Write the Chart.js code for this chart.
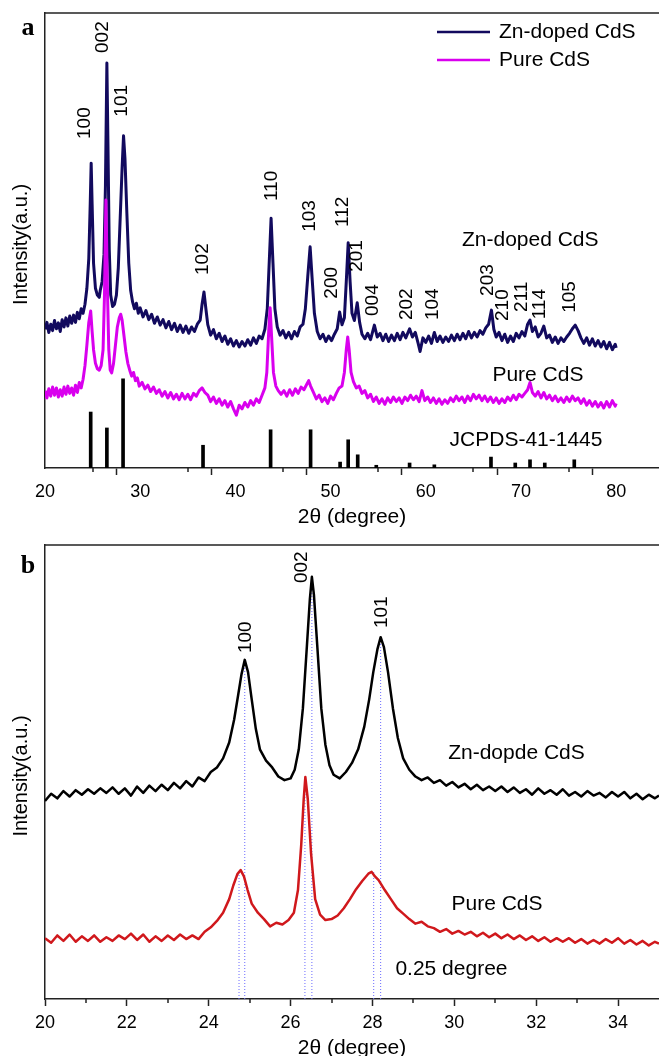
<!DOCTYPE html>
<html>
<head>
<meta charset="utf-8">
<title>XRD CdS</title>
<script src="https://cdn.jsdelivr.net/npm/chart.js@4.4.3/dist/chart.umd.min.js"></script>
<style>
html,body{margin:0;padding:0;background:#fff;}
body{width:659px;height:1056px;position:relative;overflow:hidden;}
.panel{position:absolute;left:0;width:659px;}
#pa{top:0;height:530px;}
#pb{top:530px;height:526px;}
</style>
</head>
<body>
<div class="panel" id="pa"><canvas id="chartA" width="659" height="530"></canvas></div>
<div class="panel" id="pb"><canvas id="chartB" width="659" height="526"></canvas></div>
<script>
// ---- panel a : full scan 20-80 (2theta, intensity a.u.) ----
const znDopedA = [
 [20.0,30.5],[20.2,32.0],[20.4,29.8],[20.6,31.6],[20.8,30.2],[21.0,32.4],[21.2,30.6],[21.4,31.9],[21.6,30.0],[21.8,32.6],
 [22.0,31.0],[22.2,33.0],[22.4,31.2],[22.6,33.4],[22.8,31.8],[23.0,33.6],[23.2,32.0],[23.4,34.2],[23.6,32.8],[23.8,35.0],
 [24.0,34.0],[24.2,36.0],[24.4,39.5],[24.6,46.0],[24.75,58.0],[24.85,67.0],[24.95,58.0],[25.1,45.0],[25.3,39.5],[25.5,38.0],
 [25.7,37.5],[25.8,39.0],[26.0,41.0],[26.2,47.0],[26.35,62.0],[26.5,89.0],[26.62,70.0],[26.75,48.0],[26.9,38.0],[27.1,35.5],
 [27.3,36.0],[27.5,38.0],[27.7,44.0],[27.9,55.0],[28.1,66.0],[28.25,73.0],[28.4,68.0],[28.6,56.0],[28.8,45.0],[29.0,39.0],
 [29.2,36.5],[29.4,35.0],[29.6,36.2],[29.8,34.0],[30.0,35.2],[30.3,33.2],[30.6,34.6],[30.9,32.6],[31.2,33.8],[31.5,31.8],
 [31.8,33.2],[32.1,31.4],[32.4,32.6],[32.7,30.8],[33.0,32.2],[33.3,30.4],[33.6,31.8],[33.9,30.0],[34.2,31.4],[34.5,29.8],
 [34.8,31.2],[35.1,29.6],[35.4,31.0],[35.7,30.0],[36.0,31.6],[36.3,32.5],[36.5,36.0],[36.7,38.7],[36.9,35.0],[37.1,31.5],
 [37.4,29.2],[37.7,30.4],[38.0,28.4],[38.3,29.6],[38.6,27.8],[38.9,29.0],[39.2,27.2],[39.5,28.4],[39.8,26.8],[40.1,28.0],
 [40.4,26.6],[40.7,27.8],[41.0,26.8],[41.3,28.2],[41.6,27.0],[41.9,28.6],[42.2,27.4],[42.5,29.0],[42.8,28.4],[43.1,30.5],
 [43.35,35.0],[43.55,45.0],[43.75,54.9],[43.95,45.0],[44.15,35.0],[44.4,31.0],[44.7,29.2],[45.0,30.2],[45.3,28.6],[45.6,29.8],
 [45.9,28.4],[46.2,30.0],[46.5,29.0],[46.8,31.0],[47.1,31.6],[47.35,35.0],[47.6,42.0],[47.85,48.6],[48.05,42.0],[48.3,34.0],
 [48.6,30.0],[48.9,28.4],[49.2,29.4],[49.5,27.8],[49.8,29.0],[50.1,28.0],[50.4,29.4],[50.7,30.6],[50.95,34.3],[51.2,31.5],
 [51.45,33.0],[51.65,41.0],[51.85,49.5],[52.05,41.0],[52.25,34.0],[52.5,32.4],[52.8,36.3],[53.05,32.0],[53.3,29.4],[53.6,28.4],
 [53.9,29.6],[54.2,28.2],[54.6,31.4],[54.9,28.8],[55.2,29.6],[55.5,28.0],[55.8,29.4],[56.1,27.8],[56.4,29.2],[56.7,28.0],
 [57.0,29.6],[57.3,28.2],[57.6,29.8],[57.9,28.6],[58.3,30.6],[58.6,28.8],[58.9,29.8],[59.2,27.4],[59.4,25.6],[59.7,28.6],
 [60.0,27.6],[60.3,29.0],[60.6,27.4],[60.9,29.8],[61.2,27.8],[61.5,29.0],[61.8,27.6],[62.1,28.8],[62.4,27.8],[62.7,29.2],
 [63.0,28.0],[63.3,29.4],[63.6,28.2],[63.9,29.6],[64.2,28.4],[64.5,30.0],[64.8,28.6],[65.1,29.8],[65.4,28.8],[65.7,30.2],
 [66.0,29.4],[66.3,30.8],[66.6,31.6],[66.9,34.7],[67.15,30.5],[67.4,28.8],[67.7,29.8],[68.0,28.0],[68.3,29.4],[68.6,27.6],
 [68.9,29.0],[69.2,27.8],[69.5,29.6],[69.8,28.6],[70.1,30.0],[70.4,29.0],[70.7,31.6],[70.95,32.5],[71.2,30.0],[71.5,31.0],
 [71.8,28.8],[72.1,29.6],[72.4,31.2],[72.7,28.6],[73.0,29.2],[73.3,27.6],[73.6,28.8],[73.9,27.4],[74.2,28.6],[74.5,27.8],
 [74.8,28.8],[75.1,29.6],[75.4,30.6],[75.7,31.4],[76.0,30.2],[76.3,28.6],[76.6,27.4],[76.9,28.6],[77.2,27.0],[77.5,28.4],
 [77.8,26.8],[78.1,28.0],[78.4,26.6],[78.7,27.8],[79.0,26.2],[79.3,27.6],[79.6,26.0],[79.9,27.2],[80.0,26.4]
];
const pureA = [
 [20.0,17.0],[20.2,15.4],[20.4,17.4],[20.6,15.8],[20.8,17.8],[21.0,16.0],[21.2,17.6],[21.4,15.6],[21.6,17.2],[21.8,15.8],
 [22.0,17.8],[22.2,16.2],[22.4,18.0],[22.6,16.4],[22.8,17.6],[23.0,16.0],[23.2,18.2],[23.4,16.6],[23.6,18.8],[23.8,17.6],
 [24.0,19.5],[24.2,22.5],[24.4,27.0],[24.6,32.0],[24.8,34.5],[24.95,30.0],[25.1,26.0],[25.3,23.0],[25.5,21.8],[25.7,21.5],
 [25.9,22.5],[26.1,26.0],[26.25,38.0],[26.4,58.9],[26.55,40.0],[26.7,26.0],[26.85,21.5],[27.0,20.9],[27.2,23.0],[27.4,27.0],
 [27.6,31.0],[27.8,33.0],[27.95,33.8],[28.1,32.5],[28.3,29.0],[28.5,25.5],[28.7,23.0],[28.9,21.5],[29.1,20.2],[29.3,21.0],
 [29.5,19.2],[29.7,19.8],[29.9,18.0],[30.2,18.8],[30.5,17.4],[30.8,18.2],[31.1,16.8],[31.4,17.8],[31.7,16.4],[32.0,17.2],
 [32.3,15.8],[32.6,16.8],[32.9,15.4],[33.2,16.6],[33.5,15.2],[33.8,16.2],[34.1,15.0],[34.4,16.4],[34.7,15.2],[35.0,16.2],
 [35.3,15.0],[35.6,16.4],[35.9,15.8],[36.2,17.0],[36.5,17.6],[36.8,16.6],[37.1,16.0],[37.4,14.6],[37.7,15.6],[38.0,14.2],
 [38.3,15.2],[38.6,13.8],[38.9,14.8],[39.2,13.4],[39.5,14.6],[39.8,13.0],[40.1,11.6],[40.4,13.8],[40.7,13.0],[41.0,14.4],
 [41.3,13.4],[41.6,14.8],[41.9,13.8],[42.2,15.2],[42.5,14.4],[42.8,16.0],[43.1,17.6],[43.3,21.0],[43.5,30.0],[43.65,35.2],
 [43.8,29.0],[44.0,21.0],[44.25,18.0],[44.5,17.0],[44.8,16.2],[45.1,17.0],[45.4,15.8],[45.7,17.2],[46.0,16.0],[46.3,17.4],
 [46.6,16.4],[46.9,17.8],[47.2,17.2],[47.5,18.4],[47.7,19.2],[47.9,18.0],[48.2,16.6],[48.5,15.2],[48.8,16.0],[49.1,14.6],
 [49.4,15.4],[49.7,14.2],[50.0,15.8],[50.3,15.0],[50.6,16.4],[50.9,17.6],[51.2,18.0],[51.45,21.0],[51.65,26.0],[51.8,28.8],
 [51.95,26.0],[52.15,21.0],[52.4,19.0],[52.7,17.6],[53.0,18.0],[53.3,16.4],[53.6,17.0],[53.9,15.4],[54.2,16.2],[54.5,14.6],
 [54.8,15.6],[55.1,14.2],[55.4,15.2],[55.7,14.0],[56.0,15.4],[56.3,14.4],[56.6,15.6],[56.9,14.6],[57.2,15.4],[57.5,14.2],
 [57.8,15.6],[58.1,14.8],[58.4,16.0],[58.7,15.0],[59.0,15.8],[59.3,14.6],[59.6,17.0],[59.9,14.8],[60.2,15.6],[60.5,14.4],
 [60.8,15.4],[61.1,14.2],[61.4,15.2],[61.7,14.0],[62.0,15.0],[62.3,14.2],[62.6,15.4],[62.9,14.6],[63.2,15.8],[63.5,14.8],
 [63.8,15.6],[64.1,14.4],[64.4,15.8],[64.7,14.8],[65.0,16.2],[65.3,15.2],[65.6,16.0],[65.9,14.8],[66.2,15.8],[66.5,14.6],
 [66.8,15.6],[67.1,14.4],[67.4,15.4],[67.7,14.2],[68.0,15.2],[68.3,14.4],[68.6,15.6],[68.9,14.8],[69.2,16.0],[69.5,15.0],
 [69.8,16.2],[70.1,15.6],[70.4,16.4],[70.7,17.2],[70.95,18.8],[71.2,16.6],[71.5,15.8],[71.8,16.8],[72.1,15.4],[72.4,16.6],
 [72.7,15.2],[73.0,16.0],[73.3,14.8],[73.6,15.8],[73.9,14.6],[74.2,15.4],[74.5,14.4],[74.8,15.6],[75.1,14.6],[75.4,15.8],
 [75.7,14.8],[76.0,15.4],[76.3,14.2],[76.6,15.2],[76.9,13.8],[77.2,14.8],[77.5,13.6],[77.8,14.6],[78.1,13.4],[78.4,14.4],
 [78.7,13.2],[79.0,14.6],[79.3,13.4],[79.6,14.8],[79.9,13.6],[80.0,14.2]
];
// JCPDS 41-1445 reference lines
const jcpdsPos = [24.8,26.5,28.2,36.6,43.7,47.9,51.0,51.85,52.85,54.8,58.3,60.9,66.85,69.4,70.95,72.5,75.6];
const jcpdsInt = [12.3,8.8,19.6,5.0,8.4,8.4,1.3,6.2,2.9,0.6,1.1,0.7,2.4,1.1,1.8,1.1,1.8];
// hkl labels [text, 2theta, height]
const hklA = [
 ['100',24.2,75.8],['002',26.1,94.7],['101',28.1,80.7],['102',36.6,45.9],['110',43.85,62],
 ['103',47.8,55.4],['112',51.3,56.3],['200',50.15,40.7],['201',52.8,46.6],['004',54.45,36.9],
 ['202',58.0,36],['104',60.75,36],['203',66.5,41.3],['210',68.1,35.8],['211',70.1,37.6],
 ['114',72.0,36],['105',75.15,37.6]
];
const curveTagsA = [['Zn-doped CdS',63.8,50.1],['Pure CdS',67.0,20.4],['JCPDS-41-1445',62.5,6.2]];
const majorTicksA = [20,30,40,50,60,70,80];
const minorTicksA = [25,35,45,55,65,75];

// ---- panel b : zoom 20-35 ----
const znDopedB = [
 [20.0,43.6],[20.15,45.2],[20.3,44.2],[20.45,45.8],[20.6,44.6],[20.75,46.0],[20.9,45.0],[21.05,46.2],[21.2,45.2],[21.35,46.4],
 [21.5,45.4],[21.65,46.6],[21.8,45.2],[21.95,46.4],[22.1,44.8],[22.25,46.8],[22.4,45.4],[22.55,47.0],[22.7,45.8],[22.85,47.2],
 [23.0,46.0],[23.15,47.6],[23.3,46.4],[23.45,48.0],[23.6,46.8],[23.75,48.8],[23.9,48.0],[24.05,50.0],[24.2,51.0],[24.35,53.0],
 [24.5,56.5],[24.62,61.5],[24.72,67.0],[24.8,71.5],[24.88,74.7],[24.96,72.0],[25.05,66.0],[25.15,59.5],[25.25,55.0],[25.4,52.5],
 [25.55,51.0],[25.7,49.0],[25.85,48.2],[26.0,48.6],[26.1,50.5],[26.2,55.0],[26.3,64.0],[26.4,78.0],[26.47,88.0],[26.52,93.0],
 [26.57,89.0],[26.65,78.0],[26.75,64.0],[26.85,56.0],[26.95,51.5],[27.05,49.4],[27.2,48.6],[27.35,50.0],[27.5,52.0],[27.65,55.0],
 [27.8,60.0],[27.92,66.0],[28.02,72.0],[28.12,77.0],[28.2,79.7],[28.28,77.5],[28.38,72.0],[28.5,64.0],[28.62,57.5],[28.75,53.0],
 [28.9,50.5],[29.05,49.0],[29.2,48.2],[29.35,48.8],[29.5,47.6],[29.65,48.2],[29.8,47.0],[29.95,47.8],[30.1,46.6],[30.25,47.4],
 [30.4,46.2],[30.55,47.2],[30.7,46.0],[30.85,46.8],[31.0,45.8],[31.15,46.8],[31.3,45.6],[31.45,46.6],[31.6,45.4],[31.75,46.2],
 [31.9,45.0],[32.05,46.4],[32.2,45.2],[32.35,46.0],[32.5,45.0],[32.65,46.2],[32.8,44.8],[32.95,45.6],[33.1,44.6],[33.25,45.8],
 [33.4,44.8],[33.55,45.4],[33.7,44.4],[33.85,45.6],[34.0,44.6],[34.15,45.6],[34.3,44.2],[34.45,45.2],[34.6,44.0],[34.75,45.0],
 [34.9,44.2],[35.0,44.8]
];
const pureB = [
 [20.0,13.4],[20.15,12.4],[20.3,14.0],[20.45,12.8],[20.6,14.2],[20.75,12.6],[20.9,13.8],[21.05,12.8],[21.2,14.0],[21.35,12.6],
 [21.5,13.6],[21.65,12.8],[21.8,14.0],[21.95,13.2],[22.1,14.4],[22.25,13.0],[22.4,14.2],[22.55,12.6],[22.7,13.8],[22.85,12.8],
 [23.0,14.0],[23.15,13.0],[23.3,14.2],[23.45,13.2],[23.6,14.0],[23.75,13.2],[23.9,14.8],[24.05,15.8],[24.2,17.2],[24.35,19.0],
 [24.5,22.0],[24.6,25.0],[24.7,27.5],[24.78,28.4],[24.86,27.0],[24.95,24.0],[25.05,21.0],[25.2,19.0],[25.35,17.6],[25.5,16.0],
 [25.65,16.8],[25.8,16.4],[25.95,17.4],[26.08,19.0],[26.18,24.0],[26.26,34.0],[26.32,44.0],[26.36,48.9],[26.42,44.0],[26.5,32.0],
 [26.6,22.0],[26.72,18.6],[26.85,17.4],[27.0,17.6],[27.15,18.4],[27.3,20.0],[27.45,22.0],[27.6,24.2],[27.75,26.0],[27.9,27.6],
 [27.98,28.0],[28.06,27.0],[28.15,26.2],[28.3,24.0],[28.45,22.0],[28.6,20.0],[28.75,18.8],[28.9,17.6],[29.05,16.6],[29.2,17.0],
 [29.35,16.0],[29.5,15.6],[29.65,14.8],[29.8,15.4],[29.95,14.4],[30.1,15.0],[30.25,14.2],[30.4,14.8],[30.55,13.8],[30.7,14.6],
 [30.85,13.6],[31.0,14.4],[31.15,13.4],[31.3,14.2],[31.45,13.2],[31.6,14.0],[31.75,13.0],[31.9,13.8],[32.05,12.8],[32.2,13.6],
 [32.35,12.6],[32.5,13.4],[32.65,12.6],[32.8,13.4],[32.95,12.4],[33.1,13.2],[33.25,12.2],[33.4,13.0],[33.55,12.2],[33.7,13.2],
 [33.85,12.4],[34.0,13.4],[34.15,12.2],[34.3,13.0],[34.45,12.0],[34.6,12.8],[34.75,11.8],[34.9,12.6],[35.0,12.2]
];
// peak positions marked with dotted guide lines (pure / doped pairs)
const guidePos = [24.74,24.88,26.35,26.52,28.03,28.2];
const guideTop = [28.4,74.7,48.9,93.0,28.0,79.7];
const hklB = [['100',24.91,79.7],['002',26.28,95.1],['101',28.22,85.2]];
const curveTagsB = [['Zn-dopde CdS',29.85,54.2],['Pure CdS',29.93,20.9],['0.25 degree',28.56,6.6]];
const majorTicksB = [20,22,24,26,28,30,32,34];
const minorTicksB = [21,23,25,27,29,31,33];

// ---- styles ----
const SANS = "Arial, 'Liberation Sans', sans-serif";
const SERIF = "'Times New Roman', 'Liberation Serif', serif";
const NAVY = '#120a5e', MAGENTA = '#d900ee', RED = '#d0181c', AXIS = '#222';

const toPts = arr => arr.map(p => ({x:p[0], y:p[1]}));

// major ticks through the grid, minor ones drawn short by the decor plugin
function xScaleCfg(min, max, major, minor, h){
  const all = major.concat(minor).sort((a,b)=>a-b);
  return {
    type:'linear', min, max, offset:false,
    afterBuildTicks: s => { s.ticks = all.map(v=>({value:v})); },
    afterFit: s => { s.height = h; },
    ticks:{ autoSkip:false, maxRotation:0, padding:6, color:'#000', font:{family:SANS,size:18},
      callback: v => major.includes(v) ? String(v) : '' },
    grid:{ drawOnChartArea:false, tickLength:7, tickWidth:1.5,
      tickColor: c => (c.tick && major.includes(c.tick.value)) ? AXIS : 'rgba(0,0,0,0)' },
    border:{ display:true, color:AXIS, width:1.5 }
  };
}
const yScaleCfg = {
  min:0, max:100,
  afterFit: s => { s.width = 45; },
  ticks:{ display:false }, grid:{ display:false },
  border:{ display:true, color:AXIS, width:1.5 }
};

// decorations: frame top, minor ticks, letter, axis titles, labels
function decor(cfg){
  return {
    id:'decor',
    afterDraw(chart){
      const {ctx, chartArea:a, scales:{x, y}} = chart;
      ctx.save();
      ctx.strokeStyle = AXIS; ctx.lineWidth = 1.5;
      ctx.beginPath(); ctx.moveTo(a.left, a.top); ctx.lineTo(a.right, a.top); ctx.stroke();
      cfg.minor.forEach(v => {
        const px = Math.round(x.getPixelForValue(v));
        ctx.beginPath(); ctx.moveTo(px, a.bottom); ctx.lineTo(px, a.bottom + 4); ctx.stroke();
      });
      ctx.fillStyle = '#000';
      // panel letter
      ctx.font = 'bold 26px ' + SERIF; ctx.textAlign = 'center'; ctx.textBaseline = 'alphabetic';
      ctx.fillText(cfg.letter, 28, a.top + cfg.letterDy);
      // y title
      ctx.font = '20px ' + SANS; ctx.textBaseline = 'middle';
      ctx.save(); ctx.translate(21, (a.top + a.bottom)/2 + 4); ctx.rotate(-Math.PI/2);
      ctx.fillText('Intensity(a.u.)', 0, 0); ctx.restore();
      // x title
      ctx.font = '21px ' + SANS;
      ctx.fillText('2\u03b8 (degree)', (a.left + a.right)/2, a.bottom + 49);
      // hkl labels
      ctx.font = '19px ' + SANS;
      cfg.hkl.forEach(([t, px, py]) => {
        ctx.save(); ctx.translate(x.getPixelForValue(px), y.getPixelForValue(py)); ctx.rotate(-Math.PI/2);
        ctx.fillText(t, 0, 0); ctx.restore();
      });
      // curve tags
      ctx.font = '21px ' + SANS; ctx.textAlign = 'left';
      cfg.tags.forEach(([t, px, py]) => ctx.fillText(t, x.getPixelForValue(px), y.getPixelForValue(py)));
      // legend
      if (cfg.legend) {
        chart.data.datasets.filter(d => d.inLegend).forEach((d, i) => {
          const ly = 32 + i*28;
          ctx.strokeStyle = d.borderColor; ctx.lineWidth = 2.5;
          ctx.beginPath(); ctx.moveTo(437, ly); ctx.lineTo(490, ly); ctx.stroke();
          ctx.fillText(d.label, 499, ly);
        });
      }
      ctx.restore();
    }
  };
}

const lineDs = (label, data, color, width, order, inLegend) => ({
  type:'line', label, data:toPts(data), borderColor:color, borderWidth:width,
  pointRadius:0, tension:0, fill:false, order, inLegend, borderJoinStyle:'round'
});

// panel a
new Chart(document.getElementById('chartA'), {
  type:'line',
  data:{ datasets:[
    lineDs('Zn-doped CdS', znDopedA, NAVY, 3, 2, true),
    lineDs('Pure CdS', pureA, MAGENTA, 3, 1, true),
    { type:'bar', label:'JCPDS-41-1445', data:jcpdsPos.map((p,i)=>({x:p, y:jcpdsInt[i]})),
      backgroundColor:'#000', barThickness:3, order:3 }
  ]},
  options:{
    responsive:false, animation:false, devicePixelRatio:1,
    layout:{ padding:{ top:13, right:0, left:0, bottom:0 } },
    plugins:{ legend:{display:false}, tooltip:{enabled:false} },
    scales:{ x:xScaleCfg(20, 84.5, majorTicksA, minorTicksA, 62), y:yScaleCfg }
  },
  plugins:[ decor({ letter:'a', letterDy:22, hkl:hklA, tags:curveTagsA, minor:minorTicksA, legend:true }) ]
});

// panel b
const guideSets = guidePos.map((p,i)=>({
  type:'line', data:[{x:p, y:0},{x:p, y:guideTop[i]}], borderColor:'#6a6aff', borderWidth:1,
  borderDash:[1,2], pointRadius:0, order:5
}));
new Chart(document.getElementById('chartB'), {
  type:'line',
  data:{ datasets:[
    lineDs('Zn-dopde CdS', znDopedB, '#000', 2.5, 1, false),
    lineDs('Pure CdS', pureB, RED, 2.5, 2, false),
    ...guideSets
  ]},
  options:{
    responsive:false, animation:false, devicePixelRatio:1,
    layout:{ padding:{ top:15, right:0, left:0, bottom:0 } },
    plugins:{ legend:{display:false}, tooltip:{enabled:false} },
    scales:{ x:xScaleCfg(20, 35, majorTicksB, minorTicksB, 57), y:yScaleCfg }
  },
  plugins:[ decor({ letter:'b', letterDy:28, hkl:hklB, tags:curveTagsB, minor:minorTicksB, legend:false }) ]
});
</script>
</body>
</html>
